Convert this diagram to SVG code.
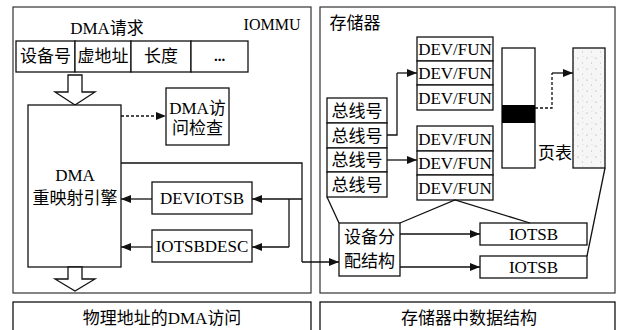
<svg xmlns="http://www.w3.org/2000/svg" width="620" height="330" viewBox="0 0 620 330">
<style>
text{font-family:"Liberation Serif","Noto Sans CJK SC",serif;font-size:17px;fill:#000;text-anchor:middle}
.box{fill:#fff;stroke:#111;stroke-width:1.3}
.frame{fill:none;stroke:#333;stroke-width:1.2}
.ln{fill:none;stroke:#111;stroke-width:1.3}
.arr{fill:none;stroke:#111;stroke-width:1.3;marker-end:url(#ah)}
.dash{stroke-dasharray:3,2}
.hollow{fill:#fff;stroke:#111;stroke-width:1.3}
</style>
<defs>
<marker id="ah" viewBox="0 0 10 8" refX="10" refY="4" markerWidth="10" markerHeight="8" markerUnits="userSpaceOnUse" orient="auto">
<path d="M0,0 L10,4 L0,8 Z" fill="#111"/>
</marker>
<pattern id="stip" width="9" height="11" patternUnits="userSpaceOnUse">
<rect width="9" height="11" fill="#f6f6f6"/>
<circle cx="2" cy="3" r="0.6" fill="#999"/>
<circle cx="6.5" cy="8" r="0.5" fill="#aaa"/>
<circle cx="7" cy="1.5" r="0.4" fill="#bbb"/>
</pattern>
</defs>

<g id="frames">
<rect class="frame" x="13" y="7" width="298" height="286"/>
<rect class="frame" x="320" y="7" width="295" height="286"/>
<text x="272" y="30" style="font-size:16px">IOMMU</text>
<text x="355" y="29">存储器</text>
</g>

<g id="dma-request">
<text x="107" y="34">DMA请求</text>
<rect class="box" x="16" y="41" width="59" height="31"/>
<rect class="box" x="75" y="41" width="56" height="31"/>
<rect class="box" x="131" y="41" width="60" height="31"/>
<rect class="box" x="191" y="41" width="57" height="31"/>
<text x="45.5" y="62">设备号</text>
<text x="103" y="62">虚地址</text>
<text x="161" y="62">长度</text>
<text x="219.5" y="61" style="font-weight:bold;font-size:15px">...</text>
</g>

<g id="arrow-in">
<path class="hollow" d="M68,75 H82 V92 H95 L75,105 L55,92 H68 Z"/>
</g>

<g id="dma-engine">
<rect class="box" x="28" y="105" width="93" height="162"/>
<text x="75" y="181">DMA</text>
<text x="75" y="204">重映射引擎</text>
</g>

<g id="dma-check">
<rect class="box" x="166" y="88" width="63" height="57"/>
<text x="197.5" y="114">DMA访</text>
<text x="197.5" y="134">问检查</text>
</g>

<g id="deviotsb">
<rect class="box" x="152" y="182" width="100" height="32"/>
<text x="202" y="204">DEVIOTSB</text>
</g>
<g id="iotsbdesc">
<rect class="box" x="152" y="230" width="100" height="32"/>
<text x="202" y="252">IOTSBDESC</text>
</g>

<g id="arrow-out">
<path class="hollow" d="M68,267 H82 V279 H95 L75,291 L55,279 H68 Z"/>
</g>

<g id="bus-table">
<rect class="box" x="327" y="98" width="60" height="25"/>
<rect class="box" x="327" y="123" width="60" height="25"/>
<rect class="box" x="327" y="148" width="60" height="24"/>
<rect class="box" x="327" y="172" width="60" height="25"/>
<text x="357" y="116.5">总线号</text>
<text x="357" y="141.5">总线号</text>
<text x="357" y="166">总线号</text>
<text x="357" y="190.5">总线号</text>
</g>

<g id="devfun1">
<rect class="box" x="417" y="37" width="76" height="24"/>
<rect class="box" x="417" y="61" width="76" height="24"/>
<rect class="box" x="417" y="85" width="76" height="25"/>
<text x="455" y="55">DEV/FUN</text>
<text x="455" y="79">DEV/FUN</text>
<text x="455" y="103.5">DEV/FUN</text>
</g>

<g id="devfun2">
<rect class="box" x="417" y="126" width="76" height="25"/>
<rect class="box" x="417" y="151" width="76" height="24"/>
<rect class="box" x="417" y="175" width="76" height="25"/>
<text x="455" y="144.5">DEV/FUN</text>
<text x="455" y="169">DEV/FUN</text>
<text x="455" y="193.5">DEV/FUN</text>
</g>

<g id="bar">
<rect class="box" x="502" y="48" width="33" height="120"/>
<rect x="502" y="105" width="33" height="18" fill="#000"/>
</g>

<g id="page-table">
<rect x="573" y="48" width="32" height="120" fill="url(#stip)" stroke="#111" stroke-width="1.3"/>
<text x="555" y="159">页表</text>
</g>

<g id="dev-alloc">
<rect class="box" x="339" y="223" width="61" height="53"/>
<text x="369.5" y="243">设备分</text>
<text x="369.5" y="267">配结构</text>
</g>

<g id="iotsb1">
<rect class="box" x="480" y="223" width="107" height="22"/>
<text x="533.5" y="240">IOTSB</text>
</g>
<g id="iotsb2">
<rect class="box" x="480" y="256" width="107" height="22"/>
<text x="533.5" y="273">IOTSB</text>
</g>

<g id="bottom">
<rect class="box" x="13" y="302" width="298" height="30"/>
<text x="162" y="324">物理地址的DMA访问</text>
<rect class="box" x="320" y="302" width="295" height="30"/>
<text x="469" y="324">存储器中数据结构</text>
</g>

<g id="connectors">
<path class="arr dash" d="M121,116 H166"/>
<path class="ln" d="M121,163 H302 V262"/>
<path class="arr" d="M302,262 H339"/>
<path class="arr" d="M302,199 H252"/>
<path class="ln" d="M289,199 V247"/>
<path class="arr" d="M289,247 H252"/>
<path class="arr" d="M152,199 H121"/>
<path class="arr" d="M152,247 H121"/>
<path class="ln" d="M387,135 H397 V73"/>
<path class="arr" d="M397,73 H417"/>
<path class="arr" d="M387,160 H417"/>
<path class="ln dash" d="M535,108 H552 V73"/>
<path class="arr" d="M552,73 H573"/>
<path class="arr" d="M400,234 H480"/>
<path class="arr" d="M400,267 H480"/>
<path class="ln" d="M327,197 L339,223"/>
<path class="ln" d="M400,223 L455,200 L530,223"/>
<path class="ln" d="M605,168 L587,256"/>
</g>
</svg>
